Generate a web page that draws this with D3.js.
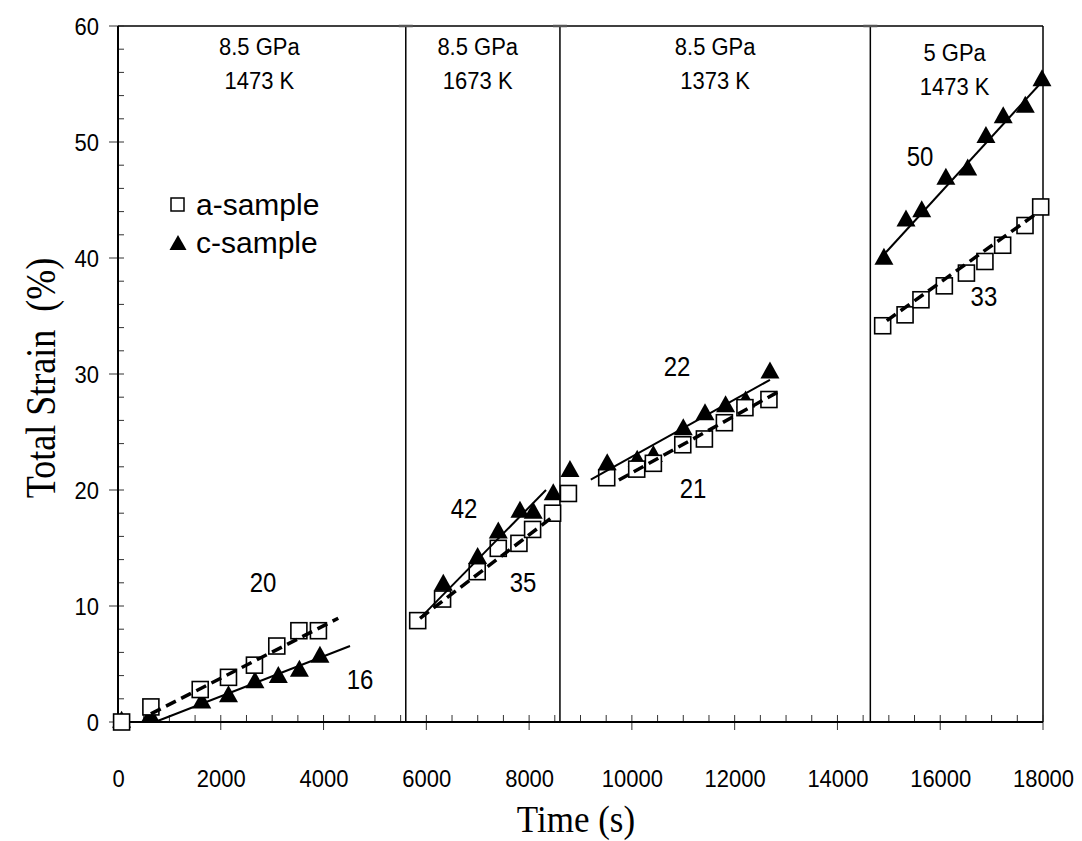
<!DOCTYPE html>
<html><head><meta charset="utf-8">
<script src="https://cdn.jsdelivr.net/npm/d3@7"></script>
<style>body{margin:0;background:#fff}svg{display:block}</style>
</head><body>
<svg id="chart" width="1082" height="841"></svg>
<script>
// ---- data ----
const aTime   = [70, 640, 1600, 2150, 2655, 3090, 3520, 3900, 5832, 6316, 6990, 7400, 7802, 8068, 8457, 8765, 9510, 10094, 10418, 10990, 11411, 11800, 12200, 12667, 14880, 15316, 15625, 16080, 16510, 16870, 17215, 17650, 17955];
const aStrain = [0, 1.3, 2.8, 3.85, 4.9, 6.55, 7.87, 7.87, 8.74, 10.6, 12.96, 14.97, 15.4, 16.6, 18.0, 19.7, 21.06, 21.8, 22.3, 23.9, 24.4, 25.8, 27.1, 27.8, 34.16, 35.1, 36.4, 37.6, 38.7, 39.7, 41.1, 42.8, 44.4];
const cTime   = [70, 630, 1630, 2150, 2665, 3120, 3530, 3930, 6330, 6998, 7400, 7822, 8081, 8470, 8795, 9520, 10103, 10418, 11000, 11423, 11823, 12213, 12687, 14905, 15334, 15640, 16110, 16535, 16890, 17226, 17655, 17980];
const cStrain = [0, 0.45, 1.66, 2.2, 3.4, 3.85, 4.4, 5.6, 11.8, 14.1, 16.3, 18.1, 18.0, 19.6, 21.6, 22.2, 22.5, 22.9, 25.2, 26.5, 27.2, 27.6, 30.1, 39.9, 43.2, 44.0, 46.8, 47.6, 50.4, 52.1, 53.0, 55.3];

// fitted lines [t0, s0, t1, s1]
const aFits = [[640, 0.7, 4286, 8.94], [5877, 8.94, 8504, 17.84], [9747, 20.86, 12862, 28.5], [14960, 34.6, 17880, 43.85]];
const cFits = [[720, 0, 4515, 6.55], [5908, 9.08, 8329, 20.0], [9200, 20.9, 12687, 29.5], [14945, 40.5, 17940, 55.0]];

// rate labels [text, t, s]
const rateLabels = [["20", 2822, 12.0], ["16", 4709, 3.6], ["42", 6733, 18.4], ["35", 7881, 12.0],
                    ["22", 10878, 30.6], ["21", 11189, 20.1], ["50", 15606, 48.7], ["33", 16851, 36.6]];

const dividers = [5600, 8600, 14640];
const stageCenters = [2750, 7000, 11620, 16280];
const stagePressure = ["8.5 GPa", "8.5 GPa", "8.5 GPa", "5 GPa"];
const stageTemp = ["1473 K", "1673 K", "1373 K", "1473 K"];

const xTicks = [0, 2000, 4000, 6000, 8000, 10000, 12000, 14000, 16000, 18000];
const yTicks = [0, 10, 20, 30, 40, 50, 60];
const legendNames = ["a-sample", "c-sample"];

// ---- layout ----
const svg = d3.select("#chart");
const L = 118, R = 1043, T = 26, B = 722;
const x = d3.scaleLinear().domain([0, 18000]).range([L, R]);
const y = d3.scaleLinear().domain([0, 60]).range([B, T]);
const sans = "Liberation Sans, Arial, sans-serif";
const serif = "Liberation Serif, Times New Roman, serif";
const SY = 1.12;

const g = svg.append("g");

function stext(parent, px, py, str, size, family, anchor, sy, rot) {
  return parent.append("text")
    .attr("transform", `translate(${px},${py})${rot ? " rotate(" + rot + ")" : ""} scale(1,${sy})`)
    .attr("text-anchor", anchor).attr("font-family", family).attr("font-size", size)
    .attr("fill", "#000").style("white-space", "pre").text(str);
}

// frame top & right
g.append("line").attr("x1", x(0)).attr("x2", x(18000)).attr("y1", y(60)).attr("y2", y(60)).attr("stroke", "#000").attr("stroke-width", 1.5);
g.append("line").attr("x1", x(18000)).attr("x2", x(18000)).attr("y1", y(0)).attr("y2", y(60)).attr("stroke", "#000").attr("stroke-width", 1.5);

// dividers
dividers.forEach(d => {
  g.append("line").attr("x1", x(d)).attr("x2", x(d)).attr("y1", y(0)).attr("y2", y(60)).attr("stroke", "#000").attr("stroke-width", 1.5);
  g.append("line").attr("x1", x(d) - 7).attr("x2", x(d) + 7).attr("y1", y(60)).attr("y2", y(60)).attr("stroke", "#555").attr("stroke-width", 2.5);
});

// axes
const xAxis = d3.axisBottom(x).tickValues(xTicks).tickSize(0).tickPadding(0).tickFormat(d3.format("d"));
const xa = g.append("g").attr("transform", `translate(0,${B})`).call(xAxis);
xa.select(".domain").remove();
xa.selectAll("text").attr("font-family", sans).attr("font-size", 22).attr("fill", "#000")
  .attr("dy", null).attr("y", null).attr("transform", `translate(0,65) scale(1,${SY})`);

const yAxis = d3.axisLeft(y).tickValues(yTicks).tickSize(0).tickPadding(0);
const ya = g.append("g").attr("transform", `translate(${L},0)`).call(yAxis);
ya.select(".domain").remove();
ya.selectAll("text").attr("font-family", sans).attr("font-size", 22).attr("fill", "#000")
  .attr("x", null).attr("dy", null).attr("transform", `translate(-19,8) scale(1,${SY})`);

// ticks
d3.range(0, 18001, 500).forEach(t => {
  const major = t % 2000 === 0;
  g.append("line").attr("x1", x(t)).attr("x2", x(t))
    .attr("y1", major ? B + 8 : B).attr("y2", B - 7)
    .attr("stroke", "#333").attr("stroke-width", 1);
});
d3.range(0, 61, 2).forEach(v => {
  const major = v % 10 === 0;
  g.append("line").attr("y1", y(v)).attr("y2", y(v))
    .attr("x1", major ? L - 9 : L).attr("x2", L + 6)
    .attr("stroke", "#333").attr("stroke-width", 1);
});

// axis lines
g.append("line").attr("x1", x(0)).attr("x2", x(18000)).attr("y1", B).attr("y2", B).attr("stroke", "#000").attr("stroke-width", 2);
g.append("line").attr("x1", L).attr("x2", L).attr("y1", y(0)).attr("y2", y(60)).attr("stroke", "#000").attr("stroke-width", 2);

// axis titles
stext(g, 576, 832, "Time (s)", 35, serif, "middle", 1.1, 0);
stext(g, 55, 378, "Total Strain  (%)", 36, serif, "middle", 1.15, -90);

// stage labels
stageCenters.forEach((c, i) => {
  const dy = i === 3 ? 6 : 0;
  stext(g, x(c), 55 + dy, stagePressure[i], 22, sans, "middle", SY, 0);
  stext(g, x(c), 89 + dy, stageTemp[i], 22, sans, "middle", SY, 0);
});

// marker shapes
const triPath = (w, h) => `M0,${-2 * h / 3}L${w / 2},${h / 3}L${-w / 2},${h / 3}Z`;

// triangles (c-sample)
g.append("g").selectAll("path").data(cTime.map((t, i) => [t, cStrain[i]])).join("path")
  .attr("d", triPath(19, 17)).attr("transform", d => `translate(${x(d[0])},${y(d[1])})`)
  .attr("fill", "#000");

// squares (a-sample)
const sq = 16;
g.append("g").selectAll("rect").data(aTime.map((t, i) => [t, aStrain[i]])).join("rect")
  .attr("x", d => x(d[0]) - sq / 2).attr("y", d => y(d[1]) - sq / 2)
  .attr("width", sq).attr("height", sq).attr("fill", "#fff").attr("stroke", "#000").attr("stroke-width", 1.6);

// fit lines
g.append("g").selectAll("line").data(cFits).join("line")
  .attr("x1", d => x(d[0])).attr("y1", d => y(d[1])).attr("x2", d => x(d[2])).attr("y2", d => y(d[3]))
  .attr("stroke", "#000").attr("stroke-width", 2);
g.append("g").selectAll("line").data(aFits).join("line")
  .attr("x1", d => x(d[0])).attr("y1", d => y(d[1])).attr("x2", d => x(d[2])).attr("y2", d => y(d[3]))
  .attr("stroke", "#000").attr("stroke-width", 3.5).attr("stroke-dasharray", "11,6");

// rate labels
rateLabels.forEach(d => stext(g, x(d[1]), y(d[2]) + 9, d[0], 24, sans, "middle", SY, 0));

// legend
const lg = g.append("g");
lg.append("rect").attr("x", 171).attr("y", 198).attr("width", 13).attr("height", 13)
  .attr("fill", "#fff").attr("stroke", "#000").attr("stroke-width", 1.5);
lg.append("path").attr("d", triPath(17, 15)).attr("transform", "translate(178,245)").attr("fill", "#000");
stext(lg, 196, 215, legendNames[0], 30, sans, "start", 1.0, 0);
stext(lg, 196, 253, legendNames[1], 30, sans, "start", 1.0, 0);
</script>
</body></html>
